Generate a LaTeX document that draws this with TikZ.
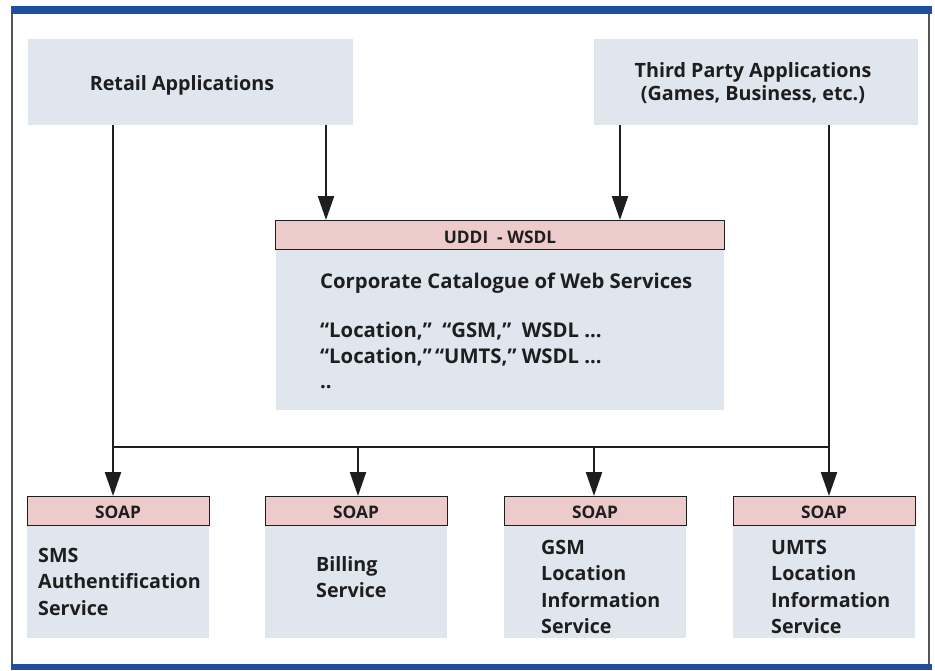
\documentclass[tikz,border=0pt]{standalone}
\usepackage{fontspec}
\setmainfont{Open Sans}
\usetikzlibrary{arrows.meta}
\definecolor{boxfill}{HTML}{DFE6EE}
\definecolor{hdrfill}{HTML}{EDCBCB}
\definecolor{barblue}{HTML}{1D4F9E}
\definecolor{ink}{HTML}{1E1E1E}
\definecolor{framec}{HTML}{555555}
\tikzset{
  body/.style={fill=boxfill, draw=none, anchor=north west, inner sep=0pt, outer sep=0pt},
  hdr/.style={fill=hdrfill, draw=ink, line width=0.9pt, anchor=north west, inner sep=0pt, outer sep=0pt, minimum height=29pt},
  big/.style={font=\bfseries\fontsize{19.7}{26.5}\selectfont, text=ink, inner sep=0pt},
  hdrtxt/.style={font=\bfseries\fontsize{17.3}{20}\selectfont, text=ink, inner sep=0pt, anchor=base},
  arr/.style={draw=ink, line width=2.2pt, -{Triangle[length=24pt,width=16pt]}},
  ln/.style={draw=ink, line width=2.2pt},
}
\begin{document}
\begin{tikzpicture}[x=1pt,y=-1pt]
\useasboundingbox (0,0) rectangle (935,670);
% frame
\fill[barblue] (11,6) rectangle (932,14);
\fill[barblue] (11,664) rectangle (932,670);
\draw[framec, line width=1.1pt] (12,14) -- (12,664);
\draw[framec, line width=1.1pt] (929,14) -- (929,664);

% top boxes
\node[body, minimum width=325pt, minimum height=86pt] (retail) at (28,39) {};
\node[big, anchor=base] (retailt) at (182,90) {Retail Applications};
\node[body, minimum width=324pt, minimum height=86pt] (third) at (594,39) {};
\node[big, anchor=north, align=center, font=\bfseries\fontsize{19.7}{23.5}\selectfont] (thirdt) at (753,62) {Third Party Applications\\(Games, Business, etc.)};

% UDDI
\node[body, minimum width=448pt, minimum height=161pt] (uddib) at (276,249) {};
\node[hdr, minimum width=449pt] (uddih) at (275,220) {};
\node[hdrtxt] (uddiht) at (500,243) {UDDI\ \ - WSDL};
\node[big, anchor=north west, font=\bfseries\fontsize{20.3}{26}\selectfont] (corp) at (320,273) {Corporate Catalogue of Web Services};
\node[big, anchor=north west, align=left, font=\bfseries\fontsize{20.3}{25.5}\selectfont] (loc) at (320,322) {“Location,”\ \ “GSM,”\ \ WSDL ...\\“Location,”\,“UMTS,”\ WSDL ...\\..};

% bottom boxes
\foreach \n/\x in {sms/27, bill/265, gsm/504, umts/733}{
  \node[body, minimum width=182pt, minimum height=113pt] (\n b) at (\x,525) {};
  \node[hdr, minimum width=182pt] (\n h) at (\x,496) {};
  \node[hdrtxt] (\n ht) at ([yshift=-22pt]\n h.north) {SOAP};
}
\node[big, anchor=north west, align=left] (smst) at (38,548) {SMS\\Authentification\\Service};
\node[big, anchor=north west, align=left] (billt) at (316,556) {Billing\\Service};
\node[big, anchor=north west, align=left] (gsmt) at (541,540) {GSM\\Location\\Information\\Service};
\node[big, anchor=north west, align=left] (umtst) at (771,540) {UMTS\\Location\\Information\\Service};

% connectors
\coordinate (busL) at (113,447);
\coordinate (busB) at (358,447);
\coordinate (busG) at (594,447);
\coordinate (busR) at (829,447);
\draw[arr] ([xshift=85pt]retail.south west) -- ([xshift=86pt]smsh.north west);
\draw[arr] ([xshift=298pt]retail.south west) -- ([xshift=51pt]uddih.north west);
\draw[arr] ([xshift=26pt]third.south west) -- ([xshift=345pt]uddih.north west);
\draw[arr] ([xshift=235pt]third.south west) -- ([xshift=96pt]umtsh.north west);
\draw[ln] (busL) -- (busR);
\draw[arr] (busB) -- (busB |- billh.north);
\draw[arr] (busG) -- (busG |- gsmh.north);
\end{tikzpicture}
\end{document}
